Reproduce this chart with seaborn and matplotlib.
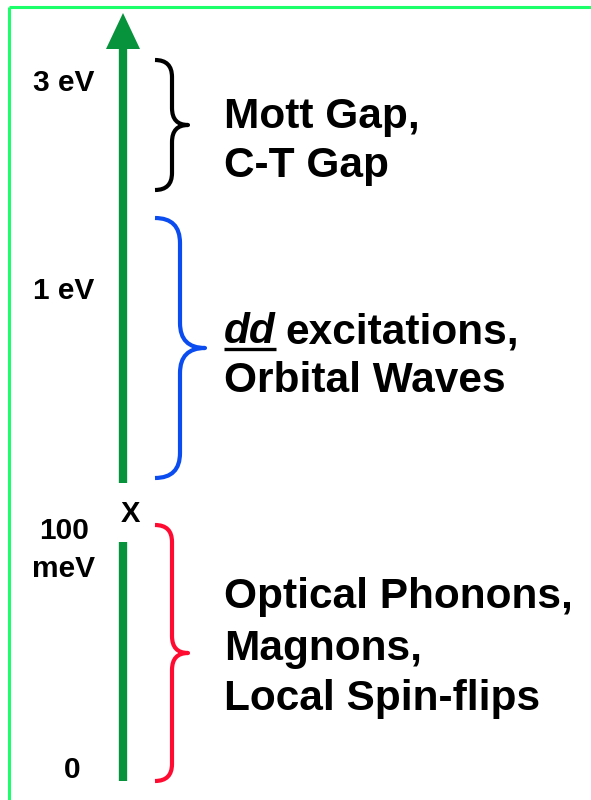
import matplotlib
matplotlib.use("Agg")
import matplotlib.pyplot as plt
import seaborn as sns
import numpy as np
import pandas as pd
from matplotlib.path import Path
from matplotlib.patches import PathPatch, Polygon

# ---------------- data ----------------
tick_labels = ["3 eV", "1 eV", "100", "meV", "0"]
tick_y = [91, 299, 539, 577, 778]
tick_x = [64, 64, 64, 64, 72]

brace_names = ["Mott", "dd", "low"]
brace_top = [60, 218, 525]
brace_bottom = [190, 478, 781]
brace_spine = [172, 180, 172]
brace_tip = [188, 205, 188]
brace_colors = ["#000000", "#0a4cf0", "#ff0a30"]

main_lines = [
    ("Mott Gap,", 128),
    ("C-T Gap", 177),
    ("Orbital Waves", 392),
    ("Optical Phonons,", 608),
    ("Magnons,", 660),
    ("Local Spin-flips", 710),
]
dd_baseline = 343

axis_segments_top = [48, 483]
axis_segments_bottom = [542, 781]
arrow_tip = 13
axis_x = 123

# ---------------- figure ----------------
sns.set_theme(style="white")
plt.rcParams['font.family'] = ['Liberation Sans', 'DejaVu Sans']
plt.rcParams['text.color'] = 'black'

fig = plt.figure(figsize=(5.91, 8), dpi=100)
ax = fig.add_axes([0, 0, 1, 1])
ax.set_xlim(0, 591)
ax.set_ylim(800, 0)
ax.axis("off")

# border (left & top)
border_color = "#1cff6a"
ax.plot([9, 9], [7, 800], color=border_color, lw=2.2, solid_capstyle="butt")
ax.plot([9, 591], [7, 7], color=border_color, lw=2.2, solid_capstyle="butt")

# axis shaft via seaborn
green = "#07923c"
shaft = pd.DataFrame({
    "x": [axis_x, axis_x, axis_x, axis_x],
    "y": axis_segments_top + axis_segments_bottom,
    "seg": ["top", "top", "bottom", "bottom"],
})
sns.lineplot(data=shaft, x="x", y="y", units="seg", estimator=None, sort=False,
             color=green, lw=6, ax=ax, legend=False)
for line in ax.lines[-2:]:
    line.set_solid_capstyle("butt")
ax.add_patch(Polygon([[axis_x, arrow_tip], [axis_x - 17, 49], [axis_x + 17, 49]],
                     closed=True, color=green, lw=0))

ax.text(130, 522, "X", fontsize=21, fontweight="bold", ha="center", va="baseline",
        color="black")

# tick labels
for lab, x, y in zip(tick_labels, tick_x, tick_y):
    ax.text(x, y, lab, fontsize=21.5, fontweight="bold", ha="center", va="baseline",
            color="black")

# braces
def brace(top, bot, xl, xs, xt, color):
    mid = (top + bot) / 2
    r = xs - xl
    verts = [
        (xl, top), (xs, top), (xs, top + r),
        (xs, mid - r),
        (xs, mid), (xt, mid),
        (xs, mid), (xs, mid + r),
        (xs, bot - r),
        (xs, bot), (xl, bot),
    ]
    codes = [Path.MOVETO, Path.CURVE3, Path.CURVE3,
             Path.LINETO,
             Path.CURVE3, Path.CURVE3,
             Path.CURVE3, Path.CURVE3,
             Path.LINETO,
             Path.CURVE3, Path.CURVE3]
    ax.add_patch(PathPatch(Path(verts, codes), fill=False, edgecolor=color,
                           lw=3.0, capstyle="butt", joinstyle="round"))

for t, b, s, tp, c in zip(brace_top, brace_bottom, brace_spine, brace_tip, brace_colors):
    brace(t, b, 155, s, tp, c)

# main texts
FS = 30.5
for txt, y in main_lines:
    ax.text(224, y, txt, fontsize=FS, fontweight="bold", ha="left", va="baseline",
            color="black")

dd = ax.text(224, dd_baseline, "dd", fontsize=FS, fontweight="bold", style="italic",
             ha="left", va="baseline", color="black")
fig.canvas.draw()
r = fig.canvas.get_renderer()
bb = dd.get_window_extent(renderer=r)
inv = ax.transData.inverted()
x1, _ = inv.transform((bb.x1, bb.y0))
ax.plot([224, x1], [dd_baseline + 6, dd_baseline + 6], color="black", lw=2.4,
        solid_capstyle="butt")
ax.text(x1 + 10, dd_baseline, "excitations,", fontsize=FS, fontweight="bold",
        ha="left", va="baseline", color="black")

fig.savefig("out.png", dpi=100)
